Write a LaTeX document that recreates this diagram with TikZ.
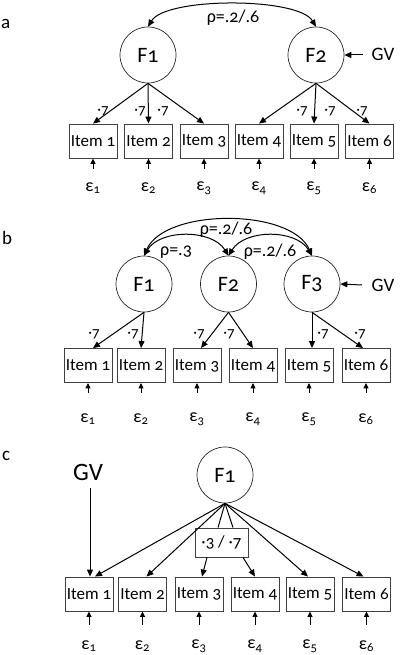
\documentclass[tikz,border=0pt]{standalone}
\usepackage{fontspec}
\setmainfont{Carlito}[Numbers=OldStyle]
\usetikzlibrary{arrows.meta}
\tikzset{
 fac/.style={circle, draw=black!85, line width=0.7pt, minimum size=56pt, inner sep=0pt, font=\fontsize{22}{22}\selectfont},
 itm/.style={rectangle, draw=black!75, line width=0.9pt, minimum width=48pt, minimum height=34pt, inner sep=0.5pt, font=\fontsize{17}{17}\selectfont},
 arr/.style={-{Triangle[length=7pt,width=6pt]}, line width=1pt},
 sarr/.style={-{Triangle[length=5.5pt,width=5pt]}, line width=1pt},
 dbl/.style={{Triangle[length=7pt,width=6pt]}-{Triangle[length=7pt,width=6pt]}, line width=1pt},
 eps/.style={font=\fontsize{18}{18}\selectfont, inner sep=0pt},
 ld/.style={font=\fontsize{15}{15}\selectfont, inner sep=0pt},
 rho/.style={font=\fontsize{18}{18}\selectfont, inner sep=0pt},
 gv/.style={font=\fontsize{19}{19}\selectfont, inner sep=0pt},
 gvbig/.style={font=\fontsize{25}{25}\selectfont, inner sep=0pt},
 lab/.style={font=\fontsize{19}{19}\selectfont, inner sep=0pt, anchor=west},
 pbox/.style={rectangle, draw=black!75, line width=0.9pt, minimum width=53pt, minimum height=29pt, inner sep=0.5pt, font=\fontsize{17}{17}\selectfont},
}
\begin{document}
\begin{tikzpicture}[x=1pt,y=-1pt]
\useasboundingbox (0,0) rectangle (400,655);
% ---------------- panel a
\node[lab] (la) at (1,24) {a};
\node[fac] (a1) at (148,55) {F1};
\node[fac] (a2) at (316,55) {F2};
\node[gv] (agv) at (383,54) {GV};
\coordinate (agvs) at (363,55);
\draw[arr] (agvs) -- (a2.east);
\draw[dbl] (a1.north) .. controls (166,-3) and (298,-3) .. (a2.north);
\node[rho] (ar) at (233,18) {ρ=.2/.6};
\foreach \i/\x in {1/93,2/148.5,3/204,4/259,5/314,6/369.5} {
  \node[itm] (ai\i) at (\x,141) {Item \i};
  \node[eps] (ae\i) at (\x,188) {ε\textsubscript{\i}};
  \coordinate (aes\i) at (\x,169);
  \draw[sarr] (aes\i) -- (ai\i.south);
}
\draw[arr] (a1.south) -- (ai1.north);
\draw[arr] (a1.south) -- (ai2.north);
\draw[arr] (a1.south) -- (ai3.north);
\draw[arr] (a2.south) -- (ai4.north);
\draw[arr] (a2.south) -- (ai5.north);
\draw[arr] (a2.south) -- (ai6.north);
\node[ld] (al1) at (103,111) {·7};
\node[ld] (al2) at (140,111) {·7};
\node[ld] (al3) at (163,111) {·7};
\node[ld] (al4) at (302,111) {·7};
\node[ld] (al5) at (330,111) {·7};
\node[ld] (al6) at (362,111) {·7};
% ---------------- panel b
\node[lab] (lb) at (2,238) {b};
\node[fac] (b1) at (144,284) {F1};
\node[fac] (b2) at (228.5,284) {F2};
\node[fac] (b3) at (312,284) {F3};
\node[gv] (bgv) at (383,285) {GV};
\coordinate (bgvs) at (362,285);
\draw[arr] (bgvs) -- (b3.east);
\draw[dbl] (b1.north) .. controls (165,208) and (291,208) .. (b3.north);
\draw[dbl] (b1.north) .. controls (160,229) and (212,229) .. (b2.north);
\draw[dbl] (b2.north) .. controls (245,229) and (296,229) .. (b3.north);
\node[rho] (br1) at (226,230) {ρ=.2/.6};
\node[rho] (br2) at (176,252) {ρ=.3};
\node[rho] (br3) at (270,252) {ρ=.2/.6};
\foreach \i/\x in {1/88,2/141,3/197,4/253,5/309,6/366} {
  \node[itm] (bi\i) at (\x,365.5) {Item \i};
  \node[eps] (be\i) at (\x,419) {ε\textsubscript{\i}};
  \coordinate (bes\i) at (\x,393);
  \draw[sarr] (bes\i) -- (bi\i.south);
}
\draw[arr] (b1.south) -- ([xshift=5pt]bi1.north);
\draw[arr] (b1.south) -- (bi2.north);
\draw[arr] (b2.south) -- ([xshift=4pt]bi3.north);
\draw[arr] (b2.south) -- (bi4.north);
\draw[arr] (b3.south) -- ([xshift=3pt]bi5.north);
\draw[arr] (b3.south) -- ([xshift=-3pt]bi6.north);
\node[ld] (bl1) at (94,334) {·7};
\node[ld] (bl2) at (133,334) {·7};
\node[ld] (bl3) at (199,334) {·7};
\node[ld] (bl4) at (229,334) {·7};
\node[ld] (bl5) at (323,334) {·7};
\node[ld] (bl6) at (360,334) {·7};
% ---------------- panel c
\node[lab] (lc) at (2,456) {c};
\node[fac] (c1) at (225,475) {F1};
\node[gvbig] (cgv) at (88,472) {GV};
\coordinate (cgvs) at (90,488);
\foreach \i/\x in {1/89,2/142.5,3/199,4/255,5/310,6/366.5} {
  \node[itm] (ci\i) at (\x,594) {Item \i};
  \node[eps] (ce\i) at (\x,646) {ε\textsubscript{\i}};
  \coordinate (ces\i) at (\x,625);
  \draw[sarr] (ces\i) -- (ci\i.south);
}
\node[pbox] (cb) at (221.5,542.5) {·3 / ·7};
\draw[arr] (cgvs) -- ([xshift=1pt]ci1.north);
\draw[arr] (c1.south) -- ([xshift=6pt]ci1.north);
\draw[arr] (c1.south) -- ([xshift=4pt]ci2.north);
\draw[arr] (c1.south) -- ([xshift=-2pt]ci5.north);
\draw[arr] (c1.south) -- ([xshift=-3pt]ci6.north);
\draw[line width=1pt] (c1.south) -- ([xshift=-3.5pt]cb.north);
\draw[line width=1pt] (c1.south) -- ([xshift=11.5pt]cb.north);
\draw[arr] ([xshift=-14.5pt]cb.south) -- ([xshift=3pt]ci3.north);
\draw[arr] ([xshift=21.5pt]cb.south) -- (ci4.north);
\end{tikzpicture}
\end{document}
